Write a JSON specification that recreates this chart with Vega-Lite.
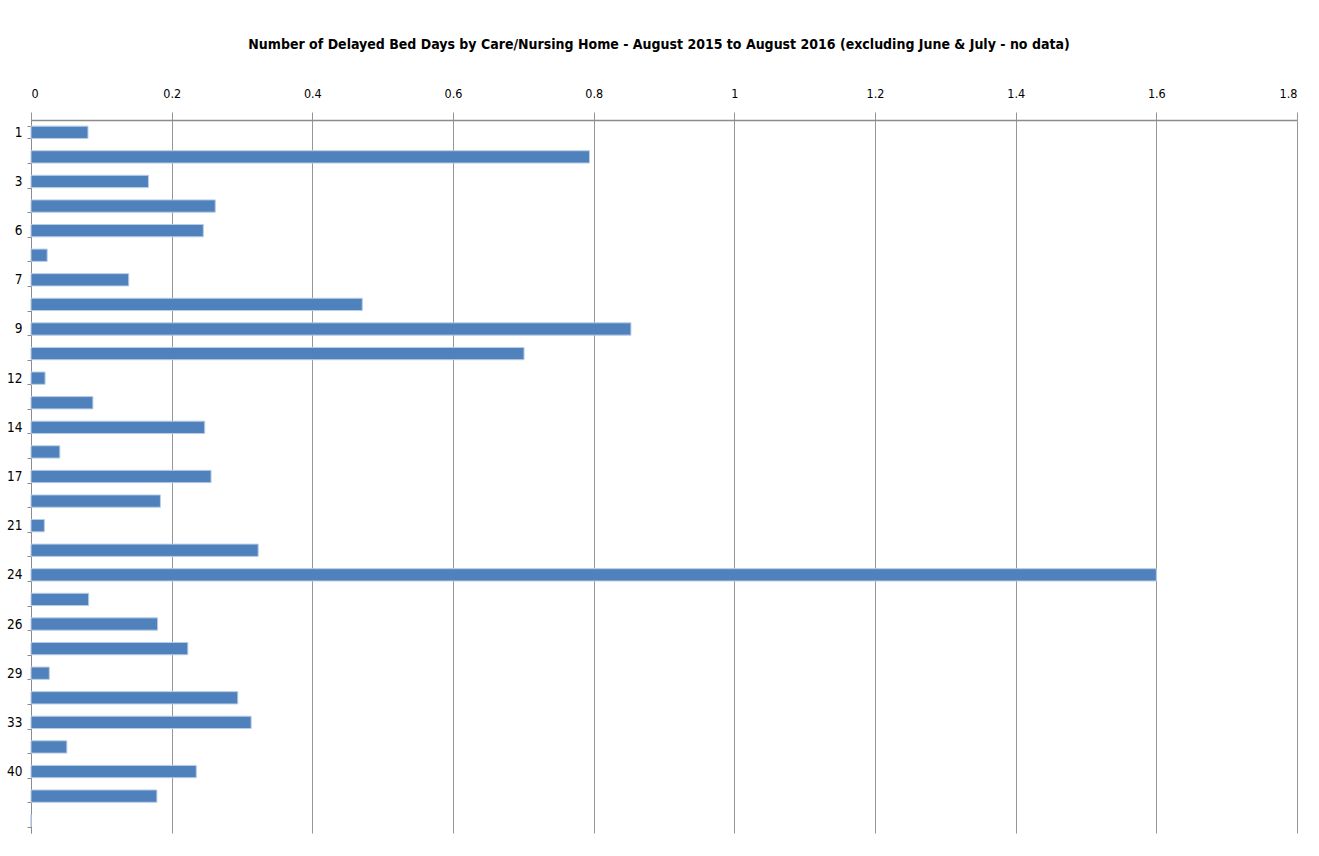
{
  "$schema": "https://vega.github.io/schema/vega-lite/v6.json",
  "autosize": "none",
  "width": 1266,
  "height": 713,
  "padding": {"left": 31, "top": 120, "right": 22, "bottom": 23},
  "background": "white",
  "title": {
    "text": "Number of Delayed Bed Days by Care/Nursing Home - August 2015 to August 2016 (excluding June & July - no data)",
    "font": "DejaVu Sans Condensed",
    "fontSize": 14,
    "fontWeight": "bold",
    "color": "#000000",
    "anchor": "middle",
    "dx": -5,
    "offset": 35
  },
  "data": {
    "values": [
      {"home": "1", "days": 0.081},
      {"home": "2", "days": 0.794},
      {"home": "3", "days": 0.167},
      {"home": "4", "days": 0.262},
      {"home": "6", "days": 0.245},
      {"home": "6A", "days": 0.023},
      {"home": "7", "days": 0.139},
      {"home": "8", "days": 0.471},
      {"home": "9", "days": 0.853},
      {"home": "10", "days": 0.701},
      {"home": "12", "days": 0.020},
      {"home": "13", "days": 0.088},
      {"home": "14", "days": 0.247},
      {"home": "15", "days": 0.041},
      {"home": "17", "days": 0.256},
      {"home": "18", "days": 0.184},
      {"home": "21", "days": 0.019},
      {"home": "22", "days": 0.323},
      {"home": "24", "days": 1.6},
      {"home": "25", "days": 0.082},
      {"home": "26", "days": 0.180},
      {"home": "27", "days": 0.223},
      {"home": "29", "days": 0.026},
      {"home": "30", "days": 0.294},
      {"home": "33", "days": 0.313},
      {"home": "34", "days": 0.051},
      {"home": "40", "days": 0.235},
      {"home": "41", "days": 0.179},
      {"home": "(blank)", "days": 0}
    ]
  },
  "mark": {"type": "bar", "color": "#4F81BD", "stroke": "#B9CDE5", "strokeWidth": 1},
  "encoding": {
    "y": {
      "field": "home",
      "type": "nominal",
      "sort": null,
      "title": null,
      "scale": {"paddingInner": 0.5, "paddingOuter": 0.25},
      "axis": {
        "labelExpr": "indexof(['2','4','6A','8','10','13','15','18','22','25','27','30','34','41','(blank)'], datum.value) >= 0 ? '' : datum.value",
        "tickBand": "extent",
        "tickSize": 4,
        "tickColor": "#8c8c8c",
        "domainColor": "#8c8c8c",
        "labelPadding": 5,
        "labelFont": "DejaVu Sans Condensed",
        "labelFontSize": 13.5,
        "labelColor": "#000000"
      }
    },
    "x": {
      "field": "days",
      "type": "quantitative",
      "title": null,
      "scale": {"domain": [0, 1.8], "nice": false},
      "axis": {
        "orient": "top",
        "values": [0, 0.2, 0.4, 0.6, 0.8, 1, 1.2, 1.4, 1.6, 1.8],
        "format": ".1~f",
        "grid": true,
        "gridColor": "#969696",
        "gridWidth": 1,
        "tickSize": 8,
        "tickColor": "#969696",
        "domainColor": "#8c8c8c",
        "domainWidth": 1.5,
        "labelPadding": 12,
        "labelFont": "DejaVu Sans Condensed",
        "labelFontSize": 12.5,
        "labelColor": "#000000"
      }
    }
  },
  "config": {
    "view": {"stroke": null}
  }
}
